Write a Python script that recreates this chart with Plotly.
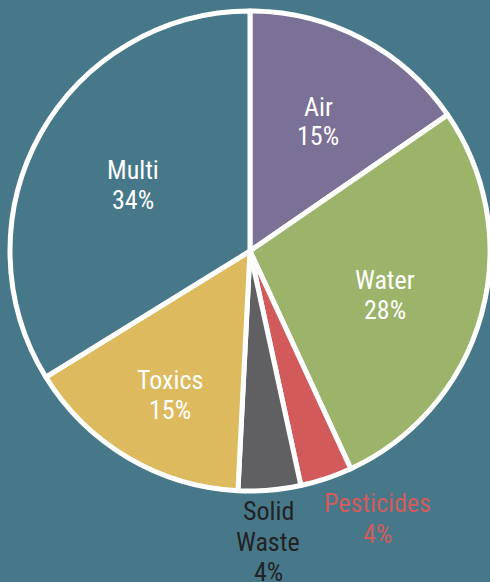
import plotly.graph_objects as go

W, H = 490, 582

categories = ["Air", "Water", "Pesticides", "Solid Waste", "Toxics", "Multi"]
values = [15.4, 27.7, 3.5, 4.2, 15.4, 33.8]
pct_labels = ["15%", "28%", "4%", "4%", "15%", "34%"]
colors = ["#7B7096", "#9BB46A", "#D25A5B", "#606062", "#DDBA5E", "#46788A"]

BG = "#46788A"
FONT = "Liberation Sans Narrow, Roboto Condensed, DejaVu Sans Condensed, Arial Narrow, sans-serif"

# label placement (pixel positions of text line centres) and text colours
label_lines = {
    "Air": (["Air", pct_labels[0]], 318, [107, 136], "white"),
    "Water": (["Water", pct_labels[1]], 385, [280, 310], "white"),
    "Pesticides": (["Pesticides", pct_labels[2]], 377, [503, 534], "#D45B5B"),
    "Solid Waste": (["Solid", "Waste", pct_labels[3]], 268, [511, 542, 572], "#222222"),
    "Toxics": (["Toxics", pct_labels[4]], 170, [380, 410], "white"),
    "Multi": (["Multi", pct_labels[5]], 133, [170, 200], "white"),
}

fig = go.Figure(
    go.Pie(
        labels=categories,
        values=values,
        marker=dict(colors=colors, line=dict(color="white", width=5)),
        sort=False,
        direction="clockwise",
        rotation=0,
        textinfo="none",
        hoverinfo="label+percent",
        showlegend=False,
        domain=dict(x=[10 / W, 1.0], y=[1 - 491 / H, 1 - 11 / H]),
    )
)

annotations = []
for cat in categories:
    lines, px, pys, col = label_lines[cat]
    for txt, py in zip(lines, pys):
        annotations.append(
            dict(
                text=txt,
                x=px / W,
                y=1 - py / H,
                xref="paper",
                yref="paper",
                xanchor="center",
                yanchor="middle",
                showarrow=False,
                font=dict(family=FONT, size=26, color=col),
            )
        )

fig.update_layout(
    width=W,
    height=H,
    margin=dict(l=0, r=0, t=0, b=0),
    paper_bgcolor=BG,
    plot_bgcolor=BG,
    annotations=annotations,
)

fig.write_html(
    "out.html",
    config={"displayModeBar": False},
    post_script="document.body.style.margin='0';document.body.style.padding='0';"
    "document.body.style.overflow='hidden';document.body.style.background='" + BG + "';",
)
